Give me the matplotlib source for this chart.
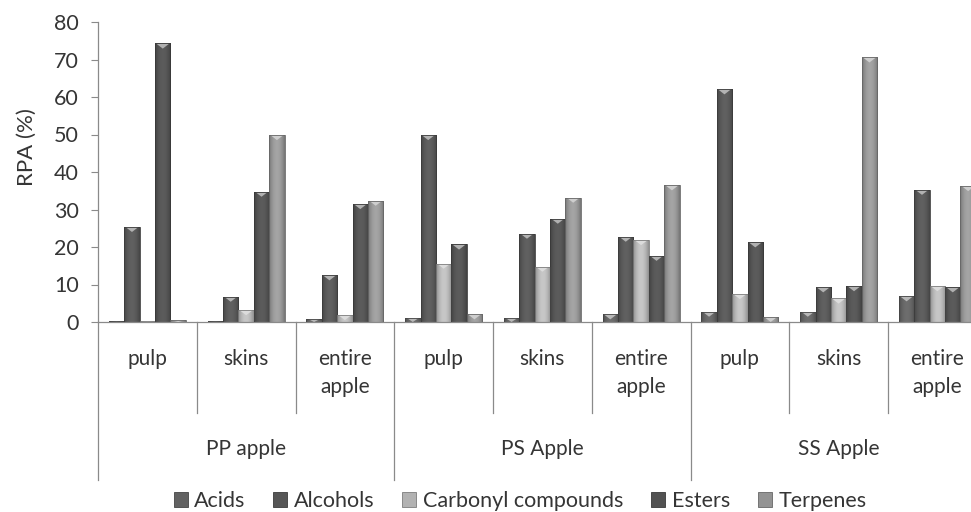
import numpy as np
import matplotlib
matplotlib.use("Agg")
import matplotlib.pyplot as plt
from matplotlib.patches import Polygon, Rectangle
from matplotlib import transforms

# Relative peak area (%) of volatile classes per apple part
categories = ["pulp", "skins", "entire\napple"] * 3
groups = ["PP apple", "PS Apple", "SS Apple"]
series = ["Acids", "Alcohols", "Carbonyl compounds", "Esters", "Terpenes"]

acids = [0.3, 0.3, 0.9, 1.2, 1.2, 2.1, 2.8, 2.8, 6.9]
alcohols = [25.4, 6.8, 12.5, 49.9, 23.6, 22.8, 62.1, 9.3, 35.3]
carbonyl = [0.3, 3.2, 1.9, 15.6, 14.8, 21.9, 7.5, 6.3, 9.6]
esters = [74.3, 34.8, 31.5, 20.7, 27.6, 17.7, 21.3, 9.6, 9.3]
terpenes = [0.5, 49.9, 32.4, 2.1, 33.2, 36.5, 1.4, 70.6, 36.3]

values = [acids, alcohols, carbonyl, esters, terpenes]
base_colors = ["#626262", "#565656", "#b2b2b2", "#525252", "#939393"]

plt.rcParams["font.family"] = ["Lato", "DejaVu Sans"]
text_color = "#353535"
line_color = "#8a8a8a"

W, H = 971, 512
fig = plt.figure(figsize=(W / 100, H / 100), dpi=100)
fig.patch.set_facecolor("white")

left_px, top_px, bottom_px = 98, 22, 322
cat_w = 98.75
ax = fig.add_axes([left_px / W, (H - bottom_px) / H,
                   9 * cat_w / W, (bottom_px - top_px) / H])


def fy(px):
    """Figure fraction for a pixel row measured from the top."""
    return (H - px) / H


n_cat = len(categories)
x = np.arange(n_cat) + 0.5
bw = 0.156


def hex_rgb(c):
    c = c.lstrip("#")
    return np.array([int(c[i:i + 2], 16) / 255 for i in (0, 2, 4)])


def shade_bar(patch, base):
    bx, by = patch.get_x(), patch.get_y()
    w, h = patch.get_width(), patch.get_height()
    if h <= 0:
        return
    t = np.linspace(0, 1, 40)
    prof = 0.80 + 0.32 * (1 - np.abs(2 * t - 1) ** 2)
    rgb = np.clip(hex_rgb(base)[None, :] * prof[:, None], 0, 1)
    img = rgb[None, :, :]
    im = ax.imshow(img, extent=[bx, bx + w, by, by + h], aspect="auto",
                   zorder=2, interpolation="bilinear")
    im.set_clip_path(patch)
    # bevelled top: light downward triangle
    dy = min(1.4, h)
    light = hex_rgb(base) * 0.45 + 0.55
    tri = Polygon([[bx + w * 0.06, by + h], [bx + w * 0.94, by + h],
                   [bx + w / 2, by + h - dy]], closed=True,
                  facecolor=light, edgecolor="none", zorder=3)
    ax.add_patch(tri)
    tri.set_clip_path(patch)
    edge = Rectangle((bx, by), w, h, facecolor="none",
                     edgecolor=hex_rgb(base) * 0.7, linewidth=0.6, zorder=4)
    ax.add_patch(edge)


for j, (vals, col) in enumerate(zip(values, base_colors)):
    bars = ax.bar(x + (j - 2) * bw, vals, width=bw, color=col,
                  edgecolor="none", zorder=1, label=series[j])
    for p in bars:
        shade_bar(p, col)

ax.set_xlim(0, n_cat)
ax.set_ylim(0, 80)
ax.set_yticks(np.arange(0, 81, 10))
ax.tick_params(axis="y", direction="out", length=5, width=0.8,
               color=line_color, labelsize=15.5, labelcolor=text_color, pad=9)
ax.tick_params(axis="x", length=0, labelbottom=False)
for s in ("top", "right"):
    ax.spines[s].set_visible(False)
for s in ("left", "bottom"):
    ax.spines[s].set_color(line_color)
    ax.spines[s].set_linewidth(0.9)

fig.text(27 / W, fy(147), "RPA (%)", rotation=90, ha="center", va="center",
         fontsize=16, color=text_color)

# hierarchical category axis
tr = transforms.blended_transform_factory(ax.transData, fig.transFigure)
for i in range(n_cat + 1):
    yb = fy(480) if i % 3 == 0 else fy(413)
    ax.plot([i, i], [fy(bottom_px), yb], transform=tr, color=line_color,
            lw=0.9, clip_on=False, zorder=0)
for i, lab in enumerate(categories):
    for k, line in enumerate(lab.split("\n")):
        ax.text(i + 0.5, fy(365 + 28 * k), line, transform=tr, ha="center",
                va="baseline", fontsize=15, color=text_color)
for g, lab in enumerate(groups):
    ax.text(g * 3 + 1.5, fy(455), lab, transform=tr, ha="center",
            va="baseline", fontsize=15, color=text_color)

handles = [Rectangle((0, 0), 1, 1, facecolor=c, edgecolor=hex_rgb(c) * 0.7,
                     linewidth=0.6) for c in base_colors]
fig.legend(handles, series, loc="center", bbox_to_anchor=(520 / W, fy(501)),
           ncol=5, frameon=False, fontsize=15.5, handlelength=0.65,
           handleheight=0.65, handletextpad=0.3, columnspacing=1.3,
           labelcolor=text_color, borderpad=0, borderaxespad=0)

fig.savefig("out.png", dpi=100, facecolor="white")
